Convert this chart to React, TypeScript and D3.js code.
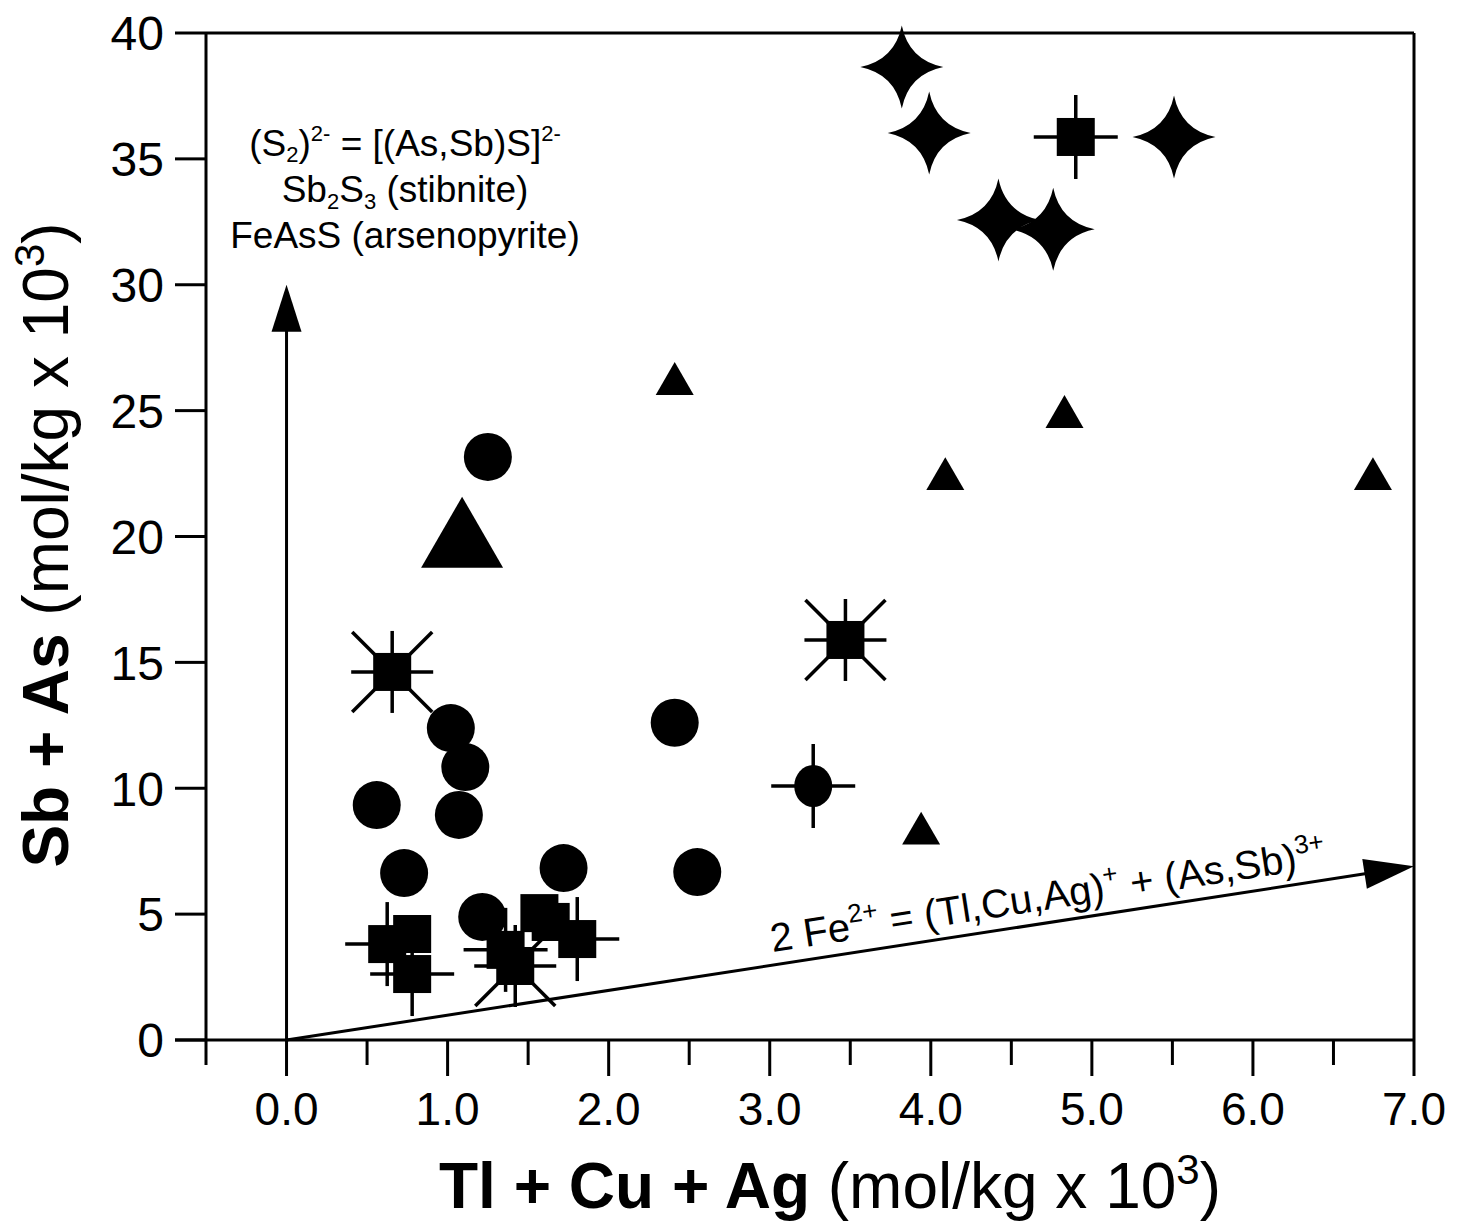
import React from "react";
import * as d3 from "d3";

// axes
const xDomain = [-0.5, 7.0];
const yDomain = [0, 40];
const xMajorTicks = [0, 1, 2, 3, 4, 5, 6, 7];
const xMinorTicks = [-0.5, 0.5, 1.5, 2.5, 3.5, 4.5, 5.5, 6.5];
const yTicks = [0, 5, 10, 15, 20, 25, 30, 35, 40];

// data points [x, y] by marker
const starPts = [[3.82, 38.65], [3.99, 36.03], [4.42, 32.57], [4.76, 32.2], [5.51, 35.87]];
const trianglePts = [[2.41, 26.06], [4.83, 24.75], [4.09, 22.28], [6.745, 22.28], [3.94, 8.2]];
const bigTrianglePts = [[1.09, 19.7]];
const circlePts = [
  [1.25, 23.16], [1.02, 12.39], [1.11, 10.84], [0.56, 9.33], [1.07, 8.94],
  [0.73, 6.63], [1.215, 4.89], [1.72, 6.83], [2.41, 12.6], [2.55, 6.67],
];
const squarePts = [[0.78, 4.21], [1.57, 5.04], [1.64, 4.69]];
const squarePlusPts = [[4.9, 35.87], [0.625, 3.81], [0.78, 2.62], [1.36, 3.58], [1.805, 4.01]];
const squareStarPts = [[0.656, 14.62], [3.47, 15.89], [1.42, 2.94]];
const circlePlusPts = [[3.27, 10.09]];

// trend arrows [x0, y0, x1, y1]
const arrows = [[0, 0, 0, 30], [0, 0, 7.0, 6.9]];

const W = 1466;
const H = 1230;
const font = "'Liberation Sans', Arial, Helvetica, sans-serif";

const x = d3.scaleLinear().domain(xDomain).range([206, 1414]);
const y = d3.scaleLinear().domain(yDomain).range([1040, 33]);

function starPath(R: number) {
  const c = 0.17 * R;
  return `M0,${-R} Q${c},${-c} ${R},0 Q${c},${c} 0,${R} Q${-c},${c} ${-R},0 Q${-c},${-c} 0,${-R} Z`;
}

function triPath(w: number) {
  const h = w * 0.866;
  return `M0,${(-2 * h) / 3} L${w / 2},${h / 3} L${-w / 2},${h / 3} Z`;
}

function Plus({ arm }: { arm: number }) {
  return (
    <g stroke="#000" strokeWidth={3.5}>
      <line x1={-arm} x2={arm} y1={0} y2={0} />
      <line x1={0} x2={0} y1={-arm} y2={arm} />
    </g>
  );
}

function Diag({ arm }: { arm: number }) {
  return (
    <g stroke="#000" strokeWidth={3.5}>
      <line x1={-arm} x2={arm} y1={-arm} y2={arm} />
      <line x1={-arm} x2={arm} y1={arm} y2={-arm} />
    </g>
  );
}

function Arrow({ d, head }: { d: number[]; head: [number, number] }) {
  const x0 = x(d[0]), y0 = y(d[1]), x1 = x(d[2]), y1 = y(d[3]);
  const ang = (Math.atan2(y1 - y0, x1 - x0) * 180) / Math.PI;
  const [len, hw] = head;
  const lineLen = Math.hypot(x1 - x0, y1 - y0);
  return (
    <g transform={`translate(${x0},${y0}) rotate(${ang})`}>
      <line x1={0} y1={0} x2={lineLen - len + 2} y2={0} stroke="#000" strokeWidth={3} />
      <path d={`M${lineLen},0 L${lineLen - len},${-hw} L${lineLen - len},${hw} Z`} fill="#000" />
    </g>
  );
}

export default function App() {
  const sq = 38;
  const slope = arrows[1];
  const labelT = 3.03;
  const lx = x(labelT);
  const ly = y((slope[3] / slope[2]) * labelT);
  const slopeAng =
    (Math.atan2(y(slope[3]) - y(0), x(slope[2]) - x(0)) * 180) / Math.PI;

  return (
    <svg
      width={W}
      height={H}
      style={{ position: "absolute", left: 0, top: 0, background: "#fff" }}
      fontFamily={font}
    >
      <rect width={W} height={H} fill="#fff" />

      {/* frame */}
      <g stroke="#000" strokeWidth={3} fill="none">
        <line x1={x(-0.5)} x2={x(7)} y1={y(40)} y2={y(40)} />
        <line x1={x(7)} x2={x(7)} y1={y(40)} y2={y(0)} />
        <line x1={x(-0.5)} x2={x(-0.5)} y1={y(40)} y2={y(0)} />
        <line x1={x(-0.5) - 31} x2={x(7)} y1={y(0)} y2={y(0)} />
      </g>

      {/* y ticks */}
      {yTicks.map((t) => (
        <g key={"y" + t}>
          <line x1={x(-0.5) - 31} x2={x(-0.5)} y1={y(t)} y2={y(t)} stroke="#000" strokeWidth={3} />
          <text x={x(-0.5) - 42} y={y(t)} dy="0.36em" textAnchor="end" fontSize={48}>
            {t}
          </text>
        </g>
      ))}

      {/* x ticks */}
      {xMajorTicks.map((t) => (
        <g key={"x" + t}>
          <line x1={x(t)} x2={x(t)} y1={y(0)} y2={y(0) + 36} stroke="#000" strokeWidth={3} />
          <text x={x(t)} y={1125} textAnchor="middle" fontSize={46}>
            {t.toFixed(1)}
          </text>
        </g>
      ))}
      {xMinorTicks.map((t) => (
        <line key={"m" + t} x1={x(t)} x2={x(t)} y1={y(0)} y2={y(0) + 25} stroke="#000" strokeWidth={3} />
      ))}

      {/* axis titles */}
      <text x={830} y={1208} textAnchor="middle" fontSize={64}>
        <tspan fontWeight="bold">Tl + Cu + Ag</tspan>
        <tspan> (mol/kg x 10</tspan>
        <tspan fontSize={42} dy={-24}>3</tspan>
        <tspan dy={24}>)</tspan>
      </text>
      <text
        transform={`translate(68,545) rotate(-90)`}
        textAnchor="middle"
        fontSize={64}
      >
        <tspan fontWeight="bold">Sb + As</tspan>
        <tspan> (mol/kg x 10</tspan>
        <tspan fontSize={42} dy={-24}>3</tspan>
        <tspan dy={24}>)</tspan>
      </text>

      {/* arrows */}
      <Arrow d={arrows[0]} head={[47, 15]} />
      <Arrow d={arrows[1]} head={[50, 15]} />

      {/* arrow annotations */}
      <g fontSize={37} textAnchor="middle">
        <text x={405} y={156}>
          <tspan>(S</tspan>
          <tspan fontSize={22} dy={6}>2</tspan>
          <tspan dy={-6}>)</tspan>
          <tspan fontSize={22} dy={-15}>2-</tspan>
          <tspan dy={15}> = [(As,Sb)S]</tspan>
          <tspan fontSize={22} dy={-15}>2-</tspan>
        </text>
        <text x={405} y={202}>
          <tspan>Sb</tspan>
          <tspan fontSize={22} dy={7}>2</tspan>
          <tspan dy={-7}>S</tspan>
          <tspan fontSize={22} dy={7}>3</tspan>
          <tspan dy={-7}> (stibnite)</tspan>
        </text>
        <text x={405} y={248}>FeAsS (arsenopyrite)</text>
      </g>
      <g transform={`translate(${lx},${ly}) rotate(${slopeAng})`}>
        <text x={0} y={-13} fontSize={40}>
          <tspan>2 Fe</tspan>
          <tspan fontSize={26} dy={-17}>2+</tspan>
          <tspan dy={17}> = (Tl,Cu,Ag)</tspan>
          <tspan fontSize={26} dy={-17}>+</tspan>
          <tspan dy={17}> + (As,Sb)</tspan>
          <tspan fontSize={26} dy={-17}>3+</tspan>
        </text>
      </g>

      {/* markers */}
      {circlePts.map(([a, b], i) => (
        <circle key={"c" + i} cx={x(a)} cy={y(b)} r={24} fill="#000" />
      ))}
      {trianglePts.map(([a, b], i) => (
        <path key={"t" + i} transform={`translate(${x(a)},${y(b)})`} d={triPath(38)} fill="#000" />
      ))}
      {bigTrianglePts.map(([a, b], i) => (
        <path key={"T" + i} transform={`translate(${x(a)},${y(b)})`} d={triPath(82)} fill="#000" />
      ))}
      {starPts.map(([a, b], i) => (
        <path key={"s" + i} transform={`translate(${x(a)},${y(b)})`} d={starPath(41.5)} fill="#000" />
      ))}
      {squarePts.map(([a, b], i) => (
        <rect key={"q" + i} x={x(a) - sq / 2} y={y(b) - sq / 2} width={sq} height={sq} fill="#000" />
      ))}
      {squarePlusPts.map(([a, b], i) => (
        <g key={"qp" + i} transform={`translate(${x(a)},${y(b)})`}>
          <rect x={-sq / 2} y={-sq / 2} width={sq} height={sq} fill="#000" />
          <Plus arm={42} />
        </g>
      ))}
      {squareStarPts.map(([a, b], i) => (
        <g key={"qs" + i} transform={`translate(${x(a)},${y(b)})`}>
          <rect x={-sq / 2} y={-sq / 2} width={sq} height={sq} fill="#000" />
          <Plus arm={41} />
          <Diag arm={40} />
        </g>
      ))}
      {circlePlusPts.map(([a, b], i) => (
        <g key={"cp" + i} transform={`translate(${x(a)},${y(b)})`}>
          <ellipse rx={19} ry={21} fill="#000" />
          <Plus arm={42} />
        </g>
      ))}
    </svg>
  );
}
